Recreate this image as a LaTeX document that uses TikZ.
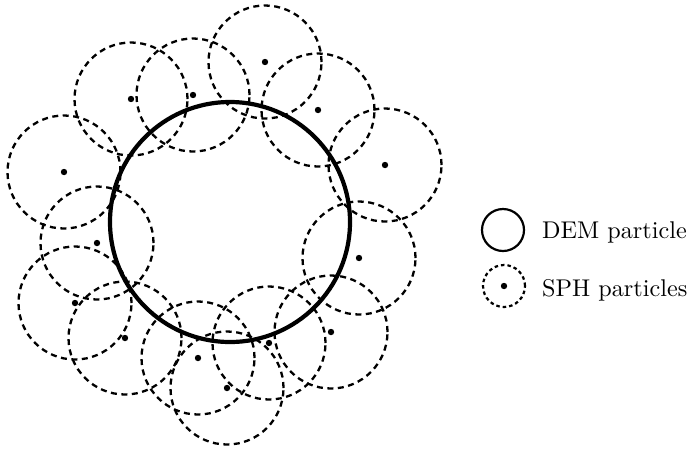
\documentclass[tikz,border=0pt]{standalone}
\usepackage{graphicx}
\usetikzlibrary{positioning}

\begin{document}
\begin{tikzpicture}[x=1pt, y=-1pt,
    sph/.style={draw, circle, line width=2.3pt, dash pattern=on 6pt off 4.5pt, minimum size=113pt, inner sep=0pt},
    dem/.style={draw, circle, line width=4.2pt, minimum size=240pt, inner sep=0pt},
    keytext/.style={anchor=base west, inner sep=0pt, font=\fontsize{10}{12}\selectfont}]
    \useasboundingbox (0,0) rectangle (690,448);
    % SPH particles around the DEM particle
    \foreach \px/\py [count=\i] in {265/62, 131/99, 193/95, 318/110, 385/165, 64/172,
        97/243, 359/258, 75/303, 125/338, 331/332, 198/358, 269/343, 227/388} {
        \node (sph\i) [sph] at (\px,\py) {};
        \fill (sph\i.center) circle (3.2pt);
    }
    % DEM particle
    \node (dem) [dem] at (230,222) {};
    % legend
    \node (demkey) [draw, circle, line width=2.2pt, minimum size=42pt, inner sep=0pt] at (503,230) {};
    \node (sphkey) [draw, circle, line width=2.2pt, dash pattern=on 3.5pt off 3pt, minimum size=42pt, inner sep=0pt] at (504,286) {};
    \fill (sphkey.center) circle (3.2pt);
    \node (demlabel) [keytext] at (542,238) {\scalebox{2.42}{DEM particle}};
    \node (sphlabel) [keytext] at (542,296) {\scalebox{2.42}{SPH particles}};
\end{tikzpicture}
\end{document}
